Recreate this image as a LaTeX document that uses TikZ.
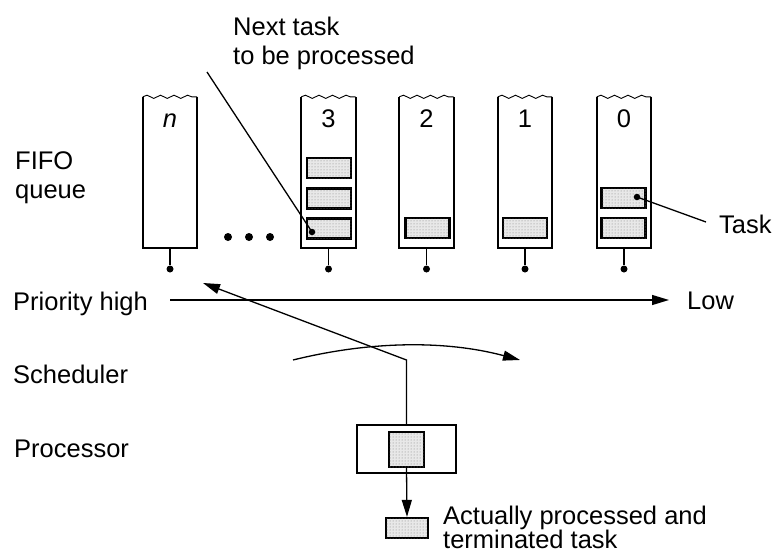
\documentclass[tikz,border=0pt]{standalone}
\usepackage{fontspec}
\setmainfont{Liberation Sans}
\usetikzlibrary{arrows.meta,patterns,decorations.pathmorphing}
\begin{document}
\begin{tikzpicture}[x=1pt,y=-1pt,
  qbox/.style={draw=none,minimum width=54pt,minimum height=151pt,inner sep=0pt},
  qline/.style={line width=2.2pt},
  wave/.style={line width=0.9pt,decorate,decoration={snake,segment length=13.5pt,amplitude=1.6pt}},
  taskbox/.style={draw,line width=2.2pt,minimum width=44pt,minimum height=20pt,inner sep=0pt,
     fill=gray!18,postaction={pattern=dots,pattern color=gray}},
  stemdot/.style={circle,fill=black,inner sep=0pt,minimum size=7pt},
  bigdot/.style={circle,fill=black,inner sep=0pt,minimum size=8pt},
  ptdot/.style={circle,fill=black,inner sep=0pt,minimum size=6.5pt},
  lbl/.style={anchor=base west,inner sep=0pt,font=\fontsize{25.5}{30}\selectfont},
  qlbl/.style={anchor=base,inner sep=0pt,font=\fontsize{25.5}{30}\selectfont},
  conn/.style={line width=1.3pt},
  tip/.style={-{Triangle[length=17pt,width=10pt]}}
]
\useasboundingbox (0,0) rectangle (777,554);

% queues
\foreach \nm/\cx in {qn/170,q3/328.5,q2/426.5,q1/525,q0/624}{
  \node[qbox] (\nm) at (\cx,172.5) {};
  \draw[qline] (\nm.north west) -- (\nm.south west) -- (\nm.south east) -- (\nm.north east);
  \draw[wave] (\nm.north west) -- (\nm.north east);
  \node[stemdot] (\nm d) at (\cx,269) {};
  \draw[conn] (\nm.south) -- (\nm d);
}
\node[qlbl] (ln) at (170,127) {\textit{n}};
\node[qlbl] (l3) at (328.5,127) {3};
\node[qlbl] (l2) at (426.5,127) {2};
\node[qlbl] (l1) at (525,127) {1};
\node[qlbl] (l0) at (624,127) {0};

% ellipsis dots
\node[bigdot] (e1) at (228,237) {};
\node[bigdot] (e2) at (249,237) {};
\node[bigdot] (e3) at (270,237) {};

% tasks
\node[taskbox] (t3a) at (329,168) {};
\node[taskbox] (t3b) at (329,198.5) {};
\node[taskbox] (t3c) at (329,228.5) {};
\node[taskbox] (t2) at (427.5,228) {};
\node[taskbox] (t1) at (525,228) {};
\node[taskbox] (t0a) at (623.5,198) {};
\node[taskbox] (t0b) at (623.5,228) {};

% labels left
\node[lbl] (fifo1) at (15,169) {FIFO};
\node[lbl] (fifo2) at (15,198) {queue};
\node[lbl] (prio) at (13,310) {Priority high};
\node[lbl] (low) at (687,309) {Low};
\node[lbl] (sched) at (13,383) {Scheduler};
\node[lbl] (proc) at (14,457) {Processor};

% next task pointer
\node[lbl] (next1) at (233,35) {Next task};
\node[lbl] (next2) at (233,64) {to be processed};
\coordinate (nstart) at (207,72);
\node[ptdot] (ndot) at (312,232) {};
\draw[conn] (nstart) -- (ndot.center);

% Task pointer
\node[lbl] (tasklbl) at (719,233) {Task};
\node[ptdot] (tdot) at (637,197) {};
\coordinate (tend) at (706,222);
\draw[conn] (tdot.center) -- (tend);

% priority arrow
\coordinate (pstart) at (170,300);
\coordinate (pend) at (669,300);
\draw[conn,tip] (pstart) -- (pend);

% scheduler arc
\coordinate (astart) at (293,360);
\coordinate (aend) at (520,360);
\draw[conn,tip] (astart) .. controls (370,341) and (445,340) .. (aend);

% processor
\node[draw,line width=2.2pt,minimum width=99pt,minimum height=48pt,inner sep=0pt] (procbox) at (406.5,449) {};
\node[taskbox,minimum width=35pt,minimum height=35pt] (ptask) at (406.5,449.5) {};
\coordinate (bend) at (406.5,360);
\coordinate (ptip) at (203,283);
\draw[conn,tip] (procbox.north) -- (bend) -- (ptip);

% output task
\node[taskbox,minimum width=42pt] (otask) at (407,528) {};
\draw[conn,tip] (ptask.south) -- (otask.north);
\node[lbl] (act1) at (443,524) {Actually processed and};
\node[lbl] (act2) at (443,548) {terminated task};
\end{tikzpicture}
\end{document}
